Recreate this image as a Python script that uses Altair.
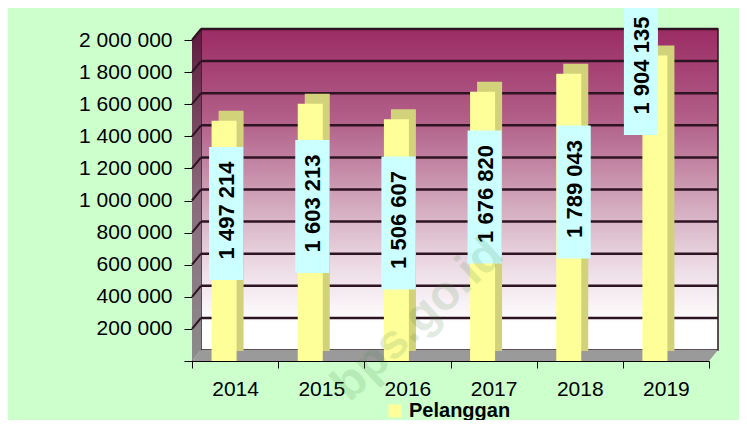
import altair as alt
import pandas as pd

# ---- data ----
years = ["2014", "2015", "2016", "2017", "2018", "2019"]
pelanggan = [1497214, 1603213, 1506607, 1676820, 1789043, 1904135]
label_at = [919000, 962600, 859800, 1021800, 1053000, 1822000]   # label centre (data units)
y_ticks = [0, 200000, 400000, 600000, 800000, 1000000, 1200000, 1400000, 1600000, 1800000, 2000000]
series_name = "Pelanggan"
watermark = "bps.go.id"

FONT = "Liberation Sans"
W, H = 517, 321
DX, DY = 9, -11          # 3-D depth of the walls
BOX_HALF = 414330        # half height of label boxes in data units

df = pd.DataFrame({"year": years, "value": pelanggan, "label_at": label_at,
                   "series": [series_name] * len(years)})
df["text"] = [f"{v:,}".replace(",", " ") for v in pelanggan]
grid_df = pd.DataFrame({"v": y_ticks[1:]})
one = pd.DataFrame({"k": [0]})

xscale = alt.Scale(domain=years, paddingInner=0, paddingOuter=0)
yscale = alt.Scale(domain=[0, 2000000], nice=False, zero=True)
xaxis = alt.Axis(title=None, labelAngle=0, tickBand="extent", tickSize=7, labelPadding=10,
                 labelFontSize=21, labelFont=FONT, labelColor="black",
                 domainColor="black", tickColor="black", grid=False)
yaxis = alt.Axis(title=None, values=y_ticks, tickSize=8, labelPadding=12,
                 labelFontSize=21, labelFont=FONT, labelColor="black",
                 domainColor="black", tickColor="black", grid=False,
                 labelExpr="datum.value == 0 ? '' : replace(replace(format(datum.value, ','), ',', ' '), ',', ' ')")


def X(field):
    return alt.X(field, scale=xscale, axis=xaxis)


def Y(field):
    return alt.Y(field, scale=yscale, axis=yaxis)


wall_grad = alt.Gradient(gradient="linear", x1=0, y1=0, x2=0, y2=1, stops=[
    alt.GradientStop(color="#9B2C64", offset=0),
    alt.GradientStop(color="#B3638B", offset=0.3),
    alt.GradientStop(color="#D3AABE", offset=0.55),
    alt.GradientStop(color="#EDDDE6", offset=0.75),
    alt.GradientStop(color="#FFFFFF", offset=0.92),
    alt.GradientStop(color="#FFFFFF", offset=1),
])
side_grad = alt.Gradient(gradient="linear", x1=0, y1=0, x2=0, y2=1, stops=[
    alt.GradientStop(color="#5E1A3E", offset=0),
    alt.GradientStop(color="#8A6A7A", offset=0.5),
    alt.GradientStop(color="#8C8C8C", offset=1),
])

wall = alt.Chart(one).mark_rect(fill=wall_grad, stroke="#2E1422", strokeWidth=1.5).encode(
    x=alt.value(DX), x2=alt.value(W + DX), y=alt.value(DY), y2=alt.value(H + DY))

wall_grid = alt.Chart(grid_df).mark_rule(yOffset=DY, color="#2E1422", strokeWidth=2.5).encode(
    y=Y("v:Q"), x=alt.value(DX), x2=alt.value(W + DX))

left_wall = alt.Chart(one).mark_point(
    shape="M-4.5,-155L4.5,-166L4.5,155L-4.5,166Z", size=4, filled=True,
    fill=side_grad, opacity=1, strokeWidth=0).encode(
    x=alt.value(4.5), y=alt.value(155))

left_grid = alt.Chart(grid_df).mark_rule(y2Offset=DY, color="#2E1422", strokeWidth=2).encode(
    y=Y("v:Q"), y2="v:Q", x=alt.value(0), x2=alt.value(DX))

floor = alt.Chart(one).mark_point(
    shape="M-263,5.5L-254,-5.5L263,-5.5L254,5.5Z", size=4, filled=True,
    fill="#9A9A9A", opacity=1, strokeWidth=0).encode(
    x=alt.value(263), y=alt.value(315.5))

bar_side = alt.Chart(df).mark_bar(width=25, xOffset=-11 + 7, yOffset=-10, y2Offset=-10,
                                  color="#D2D27A").encode(
    x=X("year:N"), y=Y("value:Q"))

bar_front = alt.Chart(df).mark_bar(width=25, xOffset=-11).encode(
    x=X("year:N"), y=Y("value:Q"),
    color=alt.Color("series:N", scale=alt.Scale(domain=[series_name], range=["#FFFF99"]),
                    legend=alt.Legend(title=None, orient="none", legendX=193, legendY=361,
                                      symbolType="square", symbolSize=170, symbolStrokeWidth=0,
                                      labelFontSize=20, labelFontWeight="bold", labelFont=FONT,
                                      labelColor="black", labelOffset=4)))

boxes = alt.Chart(df).transform_calculate(
    lo=f"datum.label_at - {BOX_HALF}", hi=f"datum.label_at + {BOX_HALF}"
).mark_bar(width=34, color="#CCFFFF",
           xOffset=alt.ExprRef("datum.year == '2019' ? -25 : (datum.year == '2018' ? -6 : -9)")).encode(
    x=X("year:N"), y=Y("lo:Q"), y2="hi:Q")

labels = alt.Chart(df).mark_text(angle=270, font=FONT, fontSize=22, fontWeight="bold",
                                 color="black", yOffset=-3,
                                 xOffset=alt.ExprRef("datum.year == '2019' ? -24 : (datum.year == '2018' ? -5 : -8)")).encode(
    x=X("year:N"), y=Y("label_at:Q"), text="text:N")

wm = alt.Chart(one).mark_text(text=watermark, angle=317, font=FONT, fontSize=48, fontWeight="bold",
                              color="#408040", opacity=0.15).encode(
    x=alt.value(226), y=alt.value(280))

chart = alt.layer(wall, wall_grid, left_wall, left_grid, floor, bar_side, bar_front,
                  boxes, labels, wm).properties(
    width=W, height=H,
    padding={"left": 184, "top": 32, "right": 30, "bottom": 59},
    autosize=alt.AutoSizeParams(type="none"),
    background="#CCFFCC",
).configure_view(strokeWidth=0)

chart.save("out.html", embed_options={"renderer": "svg", "actions": False})
